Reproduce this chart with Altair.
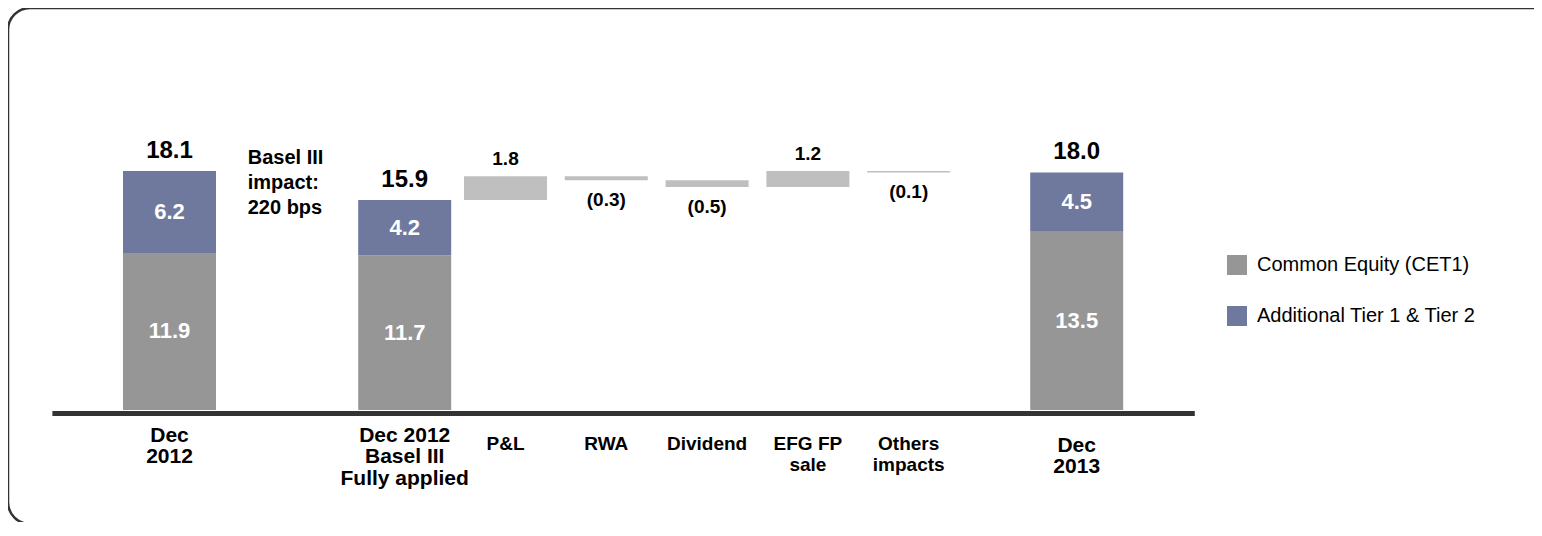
import altair as alt
import pandas as pd

# ---------------- data ----------------
categories = ["Dec|2012", "Dec 2012|Basel III|Fully applied", "P&L", "RWA",
              "Dividend", "EFG FP|sale", "Others|impacts", "Dec|2013"]
stack_cats = ["Dec|2012", "Dec 2012|Basel III|Fully applied", "Dec|2013"]
cet1_values = [11.9, 11.7, 13.5]
at1_values = [6.2, 4.2, 4.5]
total_values = [18.1, 15.9, 18.0]
move_cats = ["P&L", "RWA", "Dividend", "EFG FP|sale", "Others|impacts"]
move_values = [1.8, -0.3, -0.5, 1.2, -0.1]
series_names = ["Common Equity (CET1)", "Additional Tier 1 & Tier 2"]
annotation_lines = ["Basel III", "impact:", "220 bps"]

# ---------------- layout (band slots) ----------------
slot_of = {"Dec|2012": 3, "Dec 2012|Basel III|Fully applied": 10, "P&L": 13,
           "RWA": 16, "Dividend": 19, "EFG FP|sale": 22, "Others|impacts": 25,
           "Dec|2013": 30}
n_slots = 34
by_slot = {v: k for k, v in slot_of.items()}
domain = [by_slot.get(i, f"_{i}") for i in range(n_slots)]
annot_slot = "_5"

CET1_C = "#969696"
AT1_C = "#6F799D"
FLOAT_C = "#BFBFBF"
DARK = "#333333"
FONT = "Liberation Sans, Arial, sans-serif"

W, H = 1550, 516

# ---------------- tables ----------------
rows = []
for c, a, b in zip(stack_cats, cet1_values, at1_values):
    rows.append({"cat": c, "series": series_names[0], "value": a, "ord": 0, "mid": a / 2})
    rows.append({"cat": c, "series": series_names[1], "value": b, "ord": 1, "mid": a + b / 2})
stack_df = pd.DataFrame(rows)
stack_df["lbl"] = stack_df["value"].map(lambda v: f"{v:.1f}")

tot_df = pd.DataFrame({"cat": stack_cats, "total": total_values})
tot_df["lbl"] = tot_df["total"].map(lambda v: f"{v:.1f}")

cur = total_values[1]
frows = []
for c, d in zip(move_cats, move_values):
    lo, hi = sorted([cur, cur + d])
    frows.append({"cat": c, "lo": lo, "hi": hi, "delta": d,
                  "lbl": f"{d:.1f}" if d >= 0 else f"({abs(d):.1f})"})
    cur += d
float_df = pd.DataFrame(frows)

annot_df = pd.DataFrame({"cat": [annot_slot], "y": [total_values[0]]})

# ---------------- scales ----------------
x_scale = alt.Scale(domain=domain, range=[43.9, 1186.3], paddingInner=0, paddingOuter=0)
y_scale = alt.Scale(domain=[0, 30], range=[402, 6], nice=False, zero=True)

x_axis = alt.Axis(
    title=None, orient="bottom", offset=405 - H, domain=True, domainColor=DARK,
    domainWidth=5, ticks=False, tickSize=0, grid=False, labelAngle=0,
    labelAlign="center", labelBaseline="top",
    labelPadding={"condition": {"test": "datum.value === 'Dec|2012' || datum.value === 'Dec 2012|Basel III|Fully applied'",
                                "value": 11},
                  "value": 21},
    labelFontSize={"condition": {"test": "indexof(datum.value, 'Dec') === 0", "value": 21},
                   "value": 19},
    labelFontWeight="bold", labelColor="#000000", labelFont=FONT,
    labelLineHeight=21.5, labelOverlap=False, labelLimit=0,
    labelExpr="indexof(datum.value, '_') === 0 ? '' : split(datum.value, '|')",
)


def X():
    return alt.X("cat:N", scale=x_scale, axis=x_axis, sort=domain)


bars = alt.Chart(stack_df).mark_bar(width=93).encode(
    x=X(),
    y=alt.Y("value:Q", stack="zero", scale=y_scale, axis=None),
    color=alt.Color("series:N",
                    scale=alt.Scale(domain=series_names, range=[CET1_C, AT1_C]),
                    legend=alt.Legend(orient="none", legendX=1219, legendY=247, title=None,
                                      symbolType="square", symbolSize=400, symbolStrokeWidth=0,
                                      labelFont=FONT, labelFontSize=20, labelColor="#000000",
                                      labelLimit=0, rowPadding=31, padding=0, labelOffset=10)),
    order=alt.Order("ord:Q"),
)

seg_text = alt.Chart(stack_df).mark_text(
    font=FONT, fontSize=22, fontWeight="bold", color="white", baseline="middle"
).encode(x=X(), y=alt.Y("mid:Q", scale=y_scale, axis=None), text="lbl:N")

tot_text = alt.Chart(tot_df).mark_text(
    font=FONT, fontSize=24, fontWeight="bold", color="#000000", baseline="bottom", dy=-8
).encode(x=X(), y=alt.Y("total:Q", scale=y_scale, axis=None), text="lbl:N")

floats = alt.Chart(float_df).mark_bar(width=83, color=FLOAT_C).encode(
    x=X(),
    y=alt.Y("lo:Q", scale=y_scale, axis=None),
    y2="hi:Q",
)

pos_text = alt.Chart(float_df).transform_filter("datum.delta >= 0").mark_text(
    font=FONT, fontSize=19, fontWeight="bold", color="#000000", baseline="bottom", dy=-7
).encode(x=X(), y=alt.Y("hi:Q", scale=y_scale, axis=None), text="lbl:N")

neg_text = alt.Chart(float_df).transform_filter("datum.delta < 0").mark_text(
    font=FONT, fontSize=19, fontWeight="bold", color="#000000", baseline="top", dy=11
).encode(x=X(), y=alt.Y("lo:Q", scale=y_scale, axis=None), text="lbl:N")

annot = alt.Chart(annot_df).mark_text(
    text=annotation_lines, font=FONT, fontSize=20, fontWeight="bold", color="#000000",
    align="left", baseline="top", lineHeight=25, dx=11, dy=-23
).encode(x=X(), y=alt.Y("y:Q", scale=y_scale, axis=None))

chart = alt.layer(bars, seg_text, tot_text, floats, pos_text, neg_text, annot).properties(
    width=W, height=H,
    padding={"left": 0, "top": 0, "right": -24, "bottom": -2},
    autosize="none", background="white"
).configure_view(
    stroke=DARK, strokeWidth=2.5, cornerRadius=22, fill="white"
)

chart.save("out.html", embed_options={"renderer": "svg", "actions": False})
